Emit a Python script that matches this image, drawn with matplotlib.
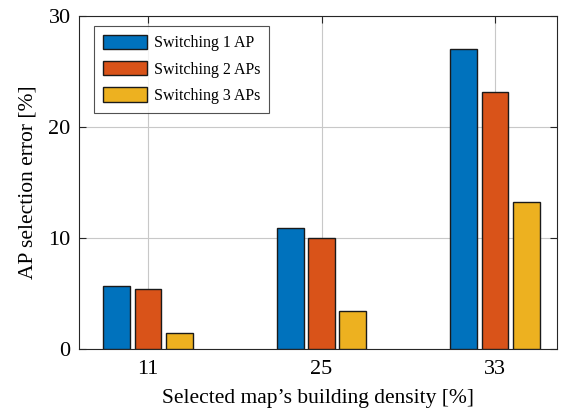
import numpy as np
import matplotlib.pyplot as plt

plt.rcParams['font.family'] = ['Liberation Serif', 'DejaVu Serif']

# Data
densities = ['11', '25', '33']
switch1 = [5.7, 10.9, 27.0]
switch2 = [5.4, 10.0, 23.15]
switch3 = [1.45, 3.4, 13.2]
labels = ['Switching 1 AP', 'Switching 2 APs', 'Switching 3 APs']
colors = ['#0072BD', '#D95319', '#EDB120']

x = np.arange(1, len(densities) + 1)
w = 0.155
off = 0.18

fig = plt.figure(figsize=(5.63, 4.11), dpi=100)
ax = fig.add_axes([0.1403, 0.1509, 0.849, 0.810])

for i, (vals, lab, c) in enumerate(zip([switch1, switch2, switch3], labels, colors)):
    ax.bar(x + (i - 1) * off, vals, width=w, color=c, edgecolor='#1a1a1a',
           linewidth=1.0, label=lab, zorder=3)

ax.set_xlim(0.602, 3.357)
ax.set_ylim(0, 30)
ax.set_xticks(x)
ax.set_xticklabels(densities)
ax.set_yticks([0, 10, 20, 30])
ax.grid(True, color='#c8c8c8', linewidth=0.8, zorder=0)
ax.set_axisbelow(True)
ax.tick_params(direction='in', top=True, right=True, labelsize=16, length=5,
               color='#262626')
ax.tick_params(axis='x', pad=8)
ax.tick_params(axis='y', pad=6)
for s in ax.spines.values():
    s.set_color('#262626')
    s.set_linewidth(0.8)

ax.set_xlabel("Selected map\u2019s building density [%]", fontsize=15.5, labelpad=7)
ax.set_ylabel('AP selection error [%]', fontsize=15.5, labelpad=8)

leg = ax.legend(loc='upper left', fontsize=11.5, fancybox=False, edgecolor='#262626',
                handlelength=2.8, handleheight=1.0, handletextpad=0.4,
                labelspacing=0.6, borderpad=0.55, borderaxespad=0,
                bbox_to_anchor=(0.031, 0.970))
leg.get_frame().set_linewidth(0.8)

fig.savefig('out.png', dpi=100)
